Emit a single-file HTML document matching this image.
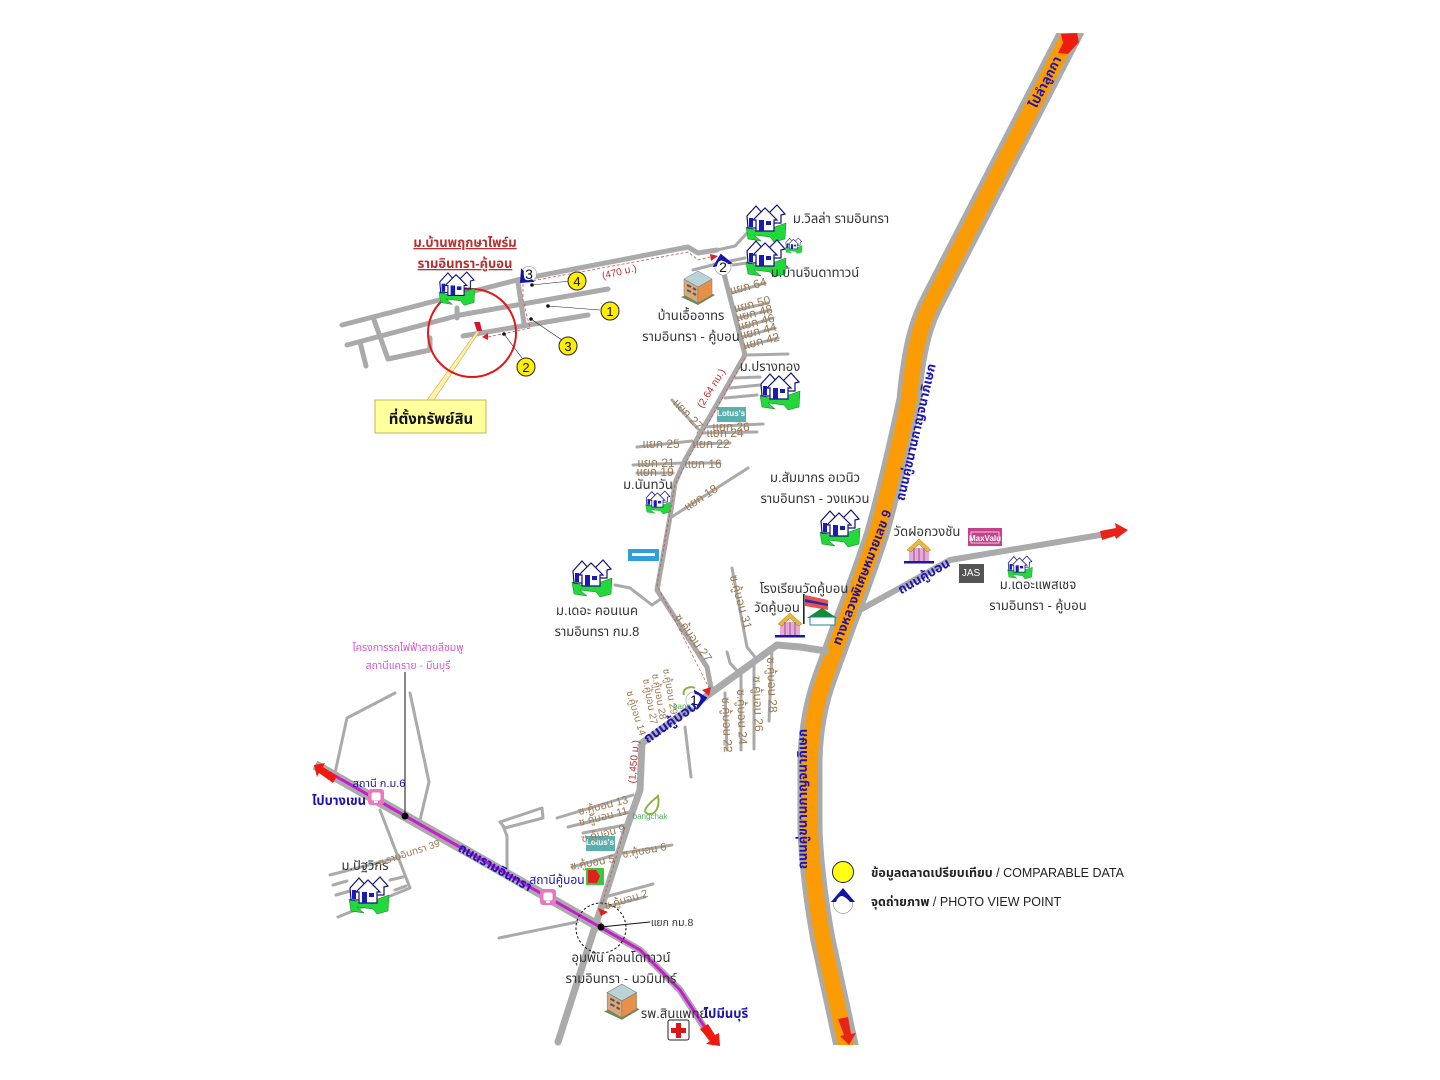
<!DOCTYPE html>
<html lang="th"><head><meta charset="utf-8"><title>แผนที่สังเขป</title>
<style>
html,body{margin:0;padding:0;background:#fff}
svg{display:block}
text{font-family:"Liberation Sans","Noto Sans Thai","Noto Sans CJK SC",sans-serif;fill:#333;font-size:13px;text-anchor:middle}
.b{fill:#9c7850;font-size:12px}
.bl{fill:#1c14b4;font-weight:bold;font-size:13px}
.r{fill:#b83030;font-size:10px}
.rd{fill:none;stroke:#aaa;stroke-width:3;stroke-linecap:round;stroke-linejoin:round}
</style></head><body>
<svg width="1440" height="1080" viewBox="0 0 1440 1080" xmlns="http://www.w3.org/2000/svg">
<defs>
<clipPath id="hc"><rect x="700" y="33" width="500" height="1012"/></clipPath>
<g id="h">
<path d="M1 22L10 25 30 22 41 18 40 34 29 37 25 32 9 30 16 36 3 34Z" fill="#22d83a" stroke="#0a7a1a" stroke-width=".5"/>
<path d="M2 11L11 1 19 10 19 23 3 23Z" fill="#fff" stroke="#12127a" stroke-width="1.2"/>
<path d="M24 8L32 0 40 9 36 10 36 18 26 18Z" fill="#fff" stroke="#12127a" stroke-width="1.2"/>
<path d="M8 15L20 3 32 15 29 15 29 26 11 26 11 15Z" fill="#fff" stroke="#12127a" stroke-width="1.2"/>
<rect x="4" y="13" width="4" height="9" fill="#1a1ab4"/><rect x="14" y="15" width="5" height="11" fill="#1a1ab4"/><rect x="21" y="16" width="5" height="4" fill="#1a1ab4"/>
</g>
<g id="bd">
<path d="M0 28L17 36 34 26 20 20Z" fill="#6a8a58"/>
<path d="M3 10L17 18 17 34 3 26Z" fill="#d8a878" stroke="#777" stroke-width=".5"/>
<path d="M17 18L31 10 31 26 17 34Z" fill="#e89048" stroke="#777" stroke-width=".5"/>
<path d="M3 10L17 2 31 10 17 18Z" fill="#b8d4d8" stroke="#777" stroke-width=".5"/>
<path d="M6 16l4 2M6 21l4 2M12 19l3 2M12 24l3 2" stroke="#556" stroke-width="2"/>
</g>
<g id="t">
<rect x="0" y="22" width="30" height="2.5" fill="#1a1a9a"/>
<rect x="5" y="9" width="20" height="13" fill="#e8a8d8"/>
<path d="M3 11L15 0 27 11 23 13 15 5 7 13Z" fill="#e8b838" stroke="#a07820" stroke-width=".5"/>
<path d="M10 9v13M15 9v13M20 9v13" stroke="#905090"/>
</g>
<g id="v"><circle r="9.5" fill="#fff" stroke="#888" stroke-width=".6"/><path d="M-12-2L0-16 12-2 7-2C4-6 0-8-1-8-4-8-6-5-7-2Z" fill="#1414a8"/></g>
<g id="st"><rect x="-8" y="-8" width="16" height="16" rx="3" fill="#ea78c0"/><rect x="-4.5" y="-4.5" width="9" height="8" rx="2" fill="#fff"/><rect x="-2" y="4" width="4" height="2" fill="#fff"/></g>
</defs>

<!-- Highway -->
<g clip-path="url(#hc)" fill="none" stroke-linejoin="round">
<path d="M1073 28L934 298C922 320 914 345 909 400Q893 475 877 533Q865 570 845 622L825 677Q811 715 810 760L810 830Q812 880 823 940L847 1050" stroke="#aaa" stroke-width="25"/>
<path d="M1073 28L934 298C922 320 914 345 909 400Q893 475 877 533Q865 570 845 622L825 677Q811 715 810 760L810 830Q812 880 823 940L847 1050" stroke="#fb9c05" stroke-width="16"/>
</g>
<path d="M1058 53L1063 43 1061 34 1077 33 1079 42 1068 54Z" fill="#ee1c10"/>
<path d="M838 1019L848 1017 851 1034 856 1033 849 1045 840 1036 844 1035Z" fill="#e8241a"/>

<!-- Roads: upper left estate -->
<g class="rd" style="stroke-width:5">
<path d="M342 325L517 280 688 247 698 253 717 250"/>
<path d="M347 345L460 315 608 289"/>
<path d="M463 336L588 315"/>
<path d="M518 282L524 323"/>
<path d="M373 317L388 359 430 350 430 338"/>
<path d="M360 342L366 366"/>
<path d="M457 308V318"/>
</g>
<g class="rd">
<path d="M717 250L735 246 748 232"/>
<path d="M693 270L720 263 745 258"/>
<path d="M733 265L747 263"/>
<path d="M732 293L765 283M737 310L768 303M738 318L770 310M740 328L773 318M742 337L775 328M744 347L778 338"/>
<path d="M745 355L788 354M735 378L760 377M730 388L760 385M725 398L757 395"/>
<path d="M672 400L699 430M703 427L763 424M698 433L757 432M637 447L692 441M694 444L730 443"/>
<path d="M633 465L683 463M637 473L673 473M687 463L720 463"/>
<path d="M670 518L748 468"/>
<path d="M615 585L630 588 652 605 662 598"/>
<path d="M732 568L747 647 755 657"/>
<path d="M727 652L730 663 739 673"/>
<path d="M741 673V750M754 663V749M772 650L769 721M725 693L727 750M685 727L691 777"/>
<path d="M557 818L633 795M568 827L630 812M583 833L625 825M572 867L622 853M623 853L672 845M605 897L653 884M605 907L645 897"/>
<path d="M499 938L577 922"/>
<path d="M500 822L542 808 543 818 505 828Z"/>
<path d="M503 826L507 836V870"/>
<path d="M335 773L347 718 395 693"/>
<path d="M410 693L429 782 420 820"/>
<path d="M380 810L410 888 338 917"/>
<path d="M330 875L400 857M333 885L347 881M336 895L350 891M390 880L403 877M395 890L406 886"/>
</g>
<!-- Minor main road -->
<path class="rd" style="stroke:#a8a8a8;stroke-width:5" d="M723 270L745 355 685 460 675 483 670 517 657 590 707 667 712 693"/>
<path class="rd" style="stroke-width:7" d="M640 790L642 743 777 645 800 647 826 651"/>
<path class="rd" style="stroke-width:7" d="M640 790L627 827 558 1042"/>
<path class="rd" style="stroke-width:6" d="M860 610L950 560 1100 535"/>
<path d="M1100 531L1116 528 1115 523 1128 530 1116 539 1115 536 1102 540Z" fill="#e8241a"/>

<!-- Ramintra -->
<path d="M315 765L600 927" fill="none" stroke="#aaa" stroke-width="10"/>
<path d="M596 925L640 950 680 990 715 1044" fill="none" stroke="#aaa" stroke-width="7"/>
<path d="M330 773L600 927 640 950 680 990 708 1032" fill="none" stroke="#c81cd0" stroke-width="3"/>
<path d="M314 765L325 763 323 767 337 776 333 783 319 773 317 777Z" fill="#f0190f"/>
<path d="M700 1029L708 1024 715 1035 719 1033 720 1046 706 1044 710 1041Z" fill="#f0190f"/>

<!-- Dashed route -->
<path d="M488 337L530 328 523 300 523 282 537 280 688 252 698 260 710 257" fill="none" stroke="#c04040" stroke-width=".7" stroke-dasharray="3 2"/>
<path d="M745 358L690 455 675 485 657 585 710 690M625 827L602 905" fill="none" stroke="#c04040" stroke-width=".6" stroke-dasharray="3 2"/>
<path d="M482 337L488 333 488 340Z" fill="#e02020"/>
<path d="M710 254L718 256 711 261Z" fill="#e02020"/>
<path d="M702 690L711 687 709 696Z" fill="#e02020"/>
<path d="M598 908L608 912 601 916Z" fill="#e02020"/>

<!-- Subject marker -->
<path d="M427 400L477 331 479 332 434 400Z" fill="#fff3a8" stroke="#d0a050" stroke-width=".6"/>
<path d="M474 322L480 322 482 331 477 331Z" fill="#d01830"/>
<circle cx="472" cy="333" r="44" fill="none" stroke="#e01818" stroke-width="2"/>
<rect x="375" y="400" width="111" height="33" fill="#ffff9c" stroke="#c8b060"/>
<text x="431" y="424" style="font-weight:bold;font-size:15px;fill:#111">ที่ตั้งทรัพย์สิน</text>

<!-- Leaders -->
<g stroke="#222" stroke-width=".6" fill="none">
<path d="M548 306L600 310M504 334L522 358M531 319L562 340M532 285L570 281"/>
</g>
<g fill="#111"><circle cx="548" cy="306" r="1.8"/><circle cx="504" cy="334" r="1.8"/><circle cx="531" cy="319" r="1.8"/><circle cx="532" cy="285" r="1.8"/></g>
<g fill="#ffee00" stroke="#222" stroke-width="1">
<circle cx="610" cy="311" r="9"/><circle cx="526" cy="367" r="9"/><circle cx="568" cy="346" r="9"/><circle cx="577" cy="281" r="9"/></g>
<text x="610" y="316" style="fill:#111">1</text><text x="526" y="372" style="fill:#111">2</text><text x="568" y="351" style="fill:#111">3</text><text x="577" y="286" style="fill:#111">4</text>

<!-- Photo points -->
<use href="#v" transform="translate(529,274) rotate(-135) scale(.8)"/><text x="529" y="279" style="fill:#111;font-size:14px">3</text>
<use href="#v" transform="translate(723,267) rotate(-10) scale(.85)"/><text x="723" y="272" style="fill:#111;font-size:14px">2</text>
<use href="#v" transform="translate(694,700) rotate(80) scale(.85)"/><text x="694" y="705" style="fill:#111;font-size:14px">1</text>

<!-- Houses -->
<use href="#h" transform="translate(438,272) scale(.9)"/>
<use href="#h" transform="translate(745,205)"/>
<use href="#h" transform="translate(785,238) scale(.42)"/>
<use href="#h" transform="translate(745,240)"/>
<use href="#h" transform="translate(759,373)"/>
<use href="#h" transform="translate(645,491) scale(.62)"/>
<use href="#h" transform="translate(819,510)"/>
<use href="#h" transform="translate(571,560)"/>
<use href="#h" transform="translate(1007,556) scale(.62)"/>
<use href="#h" transform="translate(348,877)"/>
<use href="#bd" transform="translate(681,269)"/>
<use href="#bd" transform="translate(604,982) scale(1.05)"/>
<use href="#t" transform="translate(904,539)"/>
<use href="#t" transform="translate(775,613)"/>

<!-- School -->
<rect x="803" y="594" width="1.6" height="30" fill="#222"/>
<path d="M805 595L828 600 828 610 805 606Z" fill="#e85050"/>
<path d="M805 599L828 604 828 606 805 602Z" fill="#2828a8"/>
<path d="M807 618L822 608 837 618Z" fill="#148a3c"/>
<rect x="810" y="617" width="25" height="8" fill="#fff" stroke="#148a8a"/>

<!-- Logos -->
<rect x="717" y="407" width="29" height="15" fill="#5ab0ae"/><text x="731" y="416" style="fill:#fff;font-size:8px;font-weight:bold">Lotus's</text>
<rect x="586" y="836" width="29" height="15" fill="#5ab0ae"/><text x="600" y="845" style="fill:#fff;font-size:8px;font-weight:bold">Lotus's</text>
<rect x="628" y="549" width="31" height="12" fill="#2ea0dc"/><rect x="632" y="553" width="23" height="3" fill="#fff"/>
<rect x="968" y="528" width="34" height="18" fill="#c8408c"/><rect x="971" y="532" width="28" height="11" fill="none" stroke="#fff" stroke-width=".7"/><text x="985" y="541" style="fill:#fff;font-size:8px;font-weight:bold">MaxValu</text>
<rect x="959" y="564" width="25" height="19" fill="#555"/><text x="971" y="576" style="fill:#fff;font-size:10px">JAS</text>
<rect x="586" y="868" width="18" height="17" fill="#3cc83c"/><path d="M588 870H596L600 876 597 883H588Z" fill="#e02020"/>
<path d="M646 808C650 802 656 798 658 796 660 806 656 814 650 814 646 814 644 812 646 808Z" fill="none" stroke="#8cb43c" stroke-width="2"/>
<text x="650" y="819" style="fill:#4cae60;font-size:8px">bangchak</text>
<path d="M684 695C682 688 690 686 695 688" fill="none" stroke="#8cb43c" stroke-width="2"/>
<text x="682" y="709" style="fill:#4cae60;font-size:8px">bang</text>
<rect x="668" y="1020" width="21" height="20" rx="2" fill="#fff" stroke="#222"/><path d="M676 1023h5v5h5v5h-5v5h-5v-5h-5v-5h5z" fill="#d81818"/>
<use href="#st" x="376" y="797"/><use href="#st" x="548" y="897"/>

<!-- Pink line marker -->
<path d="M405 672V816" stroke="#111" stroke-width="1"/>
<circle cx="405" cy="816" r="3.5" fill="#000"/>
<circle cx="601" cy="927" r="3.5" fill="#000"/>
<path d="M601 927L650 922" stroke="#111" stroke-width="1"/>
<circle cx="601" cy="928" r="25" fill="none" stroke="#111" stroke-dasharray="2.5 2"/>

<!-- Labels -->
<text x="465" y="247" style="fill:#b83030;font-size:13px;text-decoration:underline;font-weight:bold">ม.บ้านพฤกษาไพร์ม</text>
<text x="465" y="268" style="fill:#b83030;font-size:13px;text-decoration:underline;font-weight:bold">รามอินทรา-คู้บอน</text>
<text x="841" y="223">ม.วิลล่า รามอินทรา</text>
<text x="815" y="277">ม.บ้านจินดาทาวน์</text>
<text x="691" y="320">บ้านเอื้ออาทร</text>
<text x="691" y="341">รามอินทรา - คู้บอน</text>
<text x="770" y="371">ม.ปรางทอง</text>
<text x="648" y="489">ม.นันทวัน</text>
<text x="815" y="482">ม.สัมมากร อเวนิว</text>
<text x="815" y="503">รามอินทรา - วงแหวน</text>
<text x="927" y="536">วัดฝอกวงชัน</text>
<text x="804" y="593">โรงเรียนวัดคู้บอน</text>
<text x="777" y="612">วัดคู้บอน</text>
<text x="597" y="615">ม.เดอะ คอนเนค</text>
<text x="597" y="636">รามอินทรา กม.8</text>
<text x="1038" y="589">ม.เดอะแพสเชจ</text>
<text x="1038" y="610">รามอินทรา - คู้บอน</text>
<text x="408" y="651" style="fill:#d858d0;font-size:10.5px">โครงการรถไฟฟ้าสายสีชมพู</text>
<text x="408" y="669" style="fill:#d858d0;font-size:10.5px">สถานีแคราย - มีนบุรี</text>
<text x="379" y="787" style="fill:#1c14b4;font-size:11px">สถานี ก.ม.6</text>
<text x="339" y="805" style="fill:#1c14b4;font-size:13px;font-weight:bold">ไปบางเขน</text>
<text x="365" y="870" style="font-size:13px">ม.ปัฐวิกร</text>
<text x="557" y="884" style="fill:#1c14b4;font-size:12px">สถานีคู้บอน</text>
<text x="672" y="926" style="font-size:10.5px">แยก กม.8</text>
<text x="621" y="962">อุมพัน คอนโดทาวน์</text>
<text x="621" y="983">รามอินทรา - นวมินทร์</text>
<text x="674" y="1018" style="font-size:13px">รพ.สินแพทย์</text>
<text x="726" y="1018" style="fill:#1c14b4;font-size:13px;font-weight:bold">ไปมีนบุรี</text>
<text x="871" y="877" style="text-anchor:start;font-size:12.5px;fill:#222"><tspan style="font-weight:bold">ข้อมูลตลาดเปรียบเทียบ</tspan> / COMPARABLE DATA</text>
<text x="871" y="906" style="text-anchor:start;font-size:12.5px;fill:#222"><tspan style="font-weight:bold">จุดถ่ายภาพ</tspan> / PHOTO VIEW POINT</text>
<circle cx="843" cy="872" r="10.5" fill="#ffff14" stroke="#222"/>
<use href="#v" transform="translate(843,904)"/>

<!-- Rotated labels -->
<text class="bl" transform="translate(1049,84) rotate(-63)">ไปลำลูกกา</text>
<text class="bl" transform="translate(866,579) rotate(-69)" style="fill:#28148c">ทางหลวงพิเศษหมายเลข 9</text>
<text class="bl" transform="translate(920,433) rotate(-77)">ถนนคู่ขนานกาญจนาภิเษก</text>
<text class="bl" transform="translate(807,799) rotate(-90)">ถนนคู่ขนานกาญจนาภิเษก</text>
<text class="bl" transform="translate(926,580) rotate(-30)">ถนนคู้บอน</text>
<text class="bl" transform="translate(673,726) rotate(-35)" style="font-size:14px">ถนนคู้บอน</text>
<text class="bl" transform="translate(493,871) rotate(30)">ถนนรามอินทรา</text>
<text class="r" transform="translate(620,275) rotate(-13)">(470 ม.)</text>
<text class="r" transform="translate(714,390) rotate(-58)">(2.64 กม.)</text>
<text class="r" transform="translate(637,762) rotate(-85)">(1,450 ม.)</text>
<text class="b" transform="translate(749,290) rotate(-14)">แยก 64</text>
<text class="b" transform="translate(753,308) rotate(-14)">แยก 50</text>
<text class="b" transform="translate(755,317) rotate(-14)">แยก 48</text>
<text class="b" transform="translate(757,326) rotate(-14)">แยก 46</text>
<text class="b" transform="translate(759,335) rotate(-14)">แยก 44</text>
<text class="b" transform="translate(762,345) rotate(-14)">แยก 42</text>
<text class="b" transform="translate(685,417) rotate(47)">แยก 27</text>
<text class="b" transform="translate(731,431)">แยก 26</text>
<text class="b" transform="translate(725,437)">แยก 24</text>
<text class="b" transform="translate(661,448)">แยก 25</text>
<text class="b" transform="translate(711,448)">แยก 22</text>
<text class="b" transform="translate(656,467)">แยก 21</text>
<text class="b" transform="translate(655,476)">แยก 19</text>
<text class="b" transform="translate(703,468)">แยก 16</text>
<text class="b" transform="translate(703,501) rotate(-33)">แยก 18</text>
<text class="b" transform="translate(737,603) rotate(75)">ซ.คู้บอน 31</text>
<text class="b" transform="translate(690,640) rotate(55)">ซ.คู้บอน 27</text>
<text class="b" transform="translate(768,685) rotate(88)">ซ.คู้บอน 28</text>
<text class="b" transform="translate(754,704) rotate(88)">ซ.คู้บอน 26</text>
<text class="b" transform="translate(738,717) rotate(88)">ซ.คู้บอน 24</text>
<text class="b" transform="translate(723,725) rotate(88)">ซ.คู้บอน 22</text>
<text class="b" transform="translate(667,692) rotate(80)" style="font-size:10px">ซ.คู้บอน 29</text>
<text class="b" transform="translate(656,697) rotate(80)" style="font-size:10px">ซ.คู้บอน 28</text>
<text class="b" transform="translate(647,702) rotate(80)" style="font-size:10px">ซ.คู้บอน 27</text>
<text class="b" transform="translate(633,714) rotate(73)" style="font-size:10px">ซ.คู้บอน 14</text>
<text class="b" transform="translate(604,809) rotate(-14)" style="font-size:11px">ซ.คู้บอน 13</text>
<text class="b" transform="translate(604,820) rotate(-14)" style="font-size:11px">ซ.คู้บอน 11</text>
<text class="b" transform="translate(604,837) rotate(-14)" style="font-size:11px">ซ.คู้บอน 9</text>
<text class="b" transform="translate(593,866) rotate(-10)" style="font-size:11px">ซ.คู้บอน 5</text>
<text class="b" transform="translate(645,854) rotate(-10)" style="font-size:11px">ซ.คู้บอน 6</text>
<text class="b" transform="translate(627,903) rotate(-17)" style="font-size:11px">ซ.คู้บอน 2</text>
<text class="b" transform="translate(410,856) rotate(-18)" style="font-size:10px">ซ.รามอินทรา 39</text>
</svg>
</body></html>
